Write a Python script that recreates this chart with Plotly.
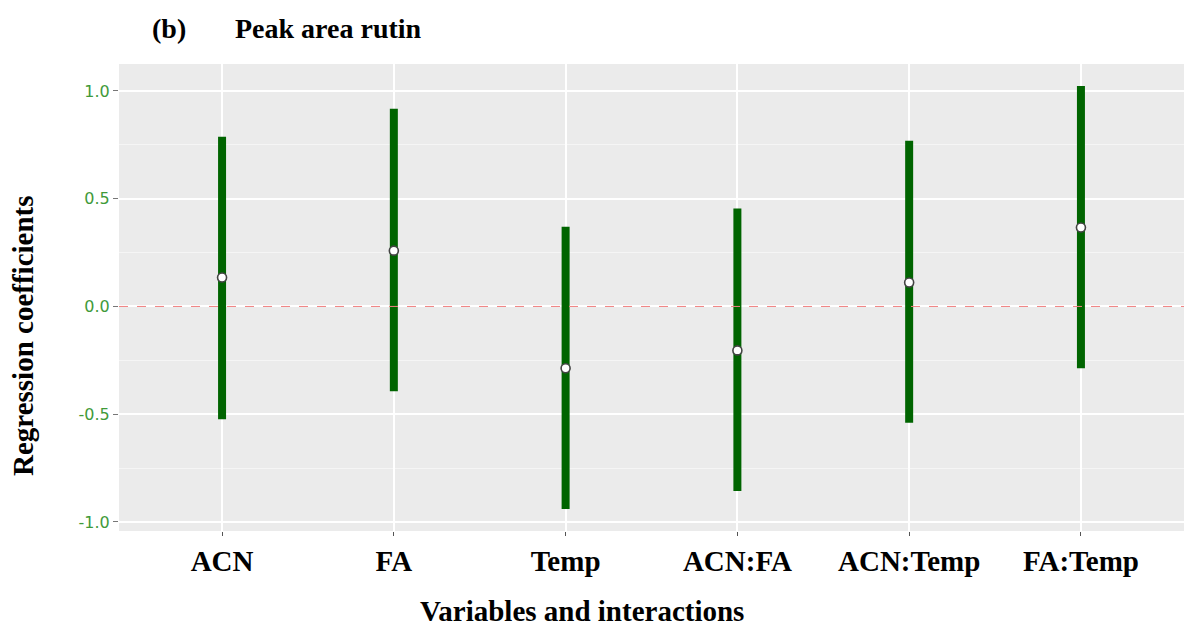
import plotly.graph_objects as go

# Regression coefficient estimates with lower/upper interval limits
terms = ["ACN", "FA", "Temp", "ACN:FA", "ACN:Temp", "FA:Temp"]
estimate = [0.134, 0.259, -0.287, -0.204, 0.111, 0.366]
lower = [-0.523, -0.394, -0.940, -0.856, -0.540, -0.287]
upper = [0.787, 0.917, 0.370, 0.454, 0.769, 1.023]
y_ticks = [-1.0, -0.5, 0.0, 0.5, 1.0]
y_tick_text = ["-1.0", "-0.5", "0.0", "0.5", "1.0"]

serif = "Liberation Serif, Times New Roman, serif"
bar_green = "#006400"

W, H = 1184, 630
M_L, M_R, M_T, M_B = 119, 0, 64, 99
plot_w = W - M_L - M_R
plot_h = H - M_T - M_B


def px_x(px):
    return (px - M_L) / plot_w


def px_y(py):
    return (H - M_B - py) / plot_h


fig = go.Figure()

# Interval bars drawn as thick vertical segments
for i, t in enumerate(terms):
    fig.add_trace(go.Scatter(
        x=[i, i], y=[lower[i], upper[i]],
        mode="lines",
        line=dict(color=bar_green, width=8),
        hoverinfo="skip", showlegend=False,
    ))

# Point estimates
fig.add_trace(go.Scatter(
    x=list(range(len(terms))), y=estimate,
    mode="markers",
    marker=dict(symbol="circle", size=9, color="white",
                line=dict(color="#444444", width=1.6)),
    showlegend=False,
))

# Reference line at zero
fig.add_hline(y=0, line=dict(color="#F08080", width=1, dash="dash"))

fig.update_layout(
    width=W, height=H,
    margin=dict(l=M_L, r=M_R, t=M_T, b=M_B),
    paper_bgcolor="white",
    plot_bgcolor="#EBEBEB",
    showlegend=False,
    xaxis=dict(
        range=[-0.6, 5.6],
        tickmode="array",
        tickvals=list(range(len(terms))),
        ticktext=terms,
        tickfont=dict(family=serif, size=29, color="black", weight="bold"),
        showgrid=True, gridcolor="white", gridwidth=1.5,
        zeroline=False,
        ticks="outside", ticklen=4, tickcolor="#555555", tickwidth=1,
    ),
    yaxis=dict(
        range=[-1.042, 1.125],
        tickmode="array",
        tickvals=y_ticks,
        ticktext=y_tick_text,
        tickfont=dict(family="DejaVu Sans, sans-serif", size=16, color="#3f9a3a"),
        showgrid=True, gridcolor="white", gridwidth=1.5,
        minor=dict(dtick=0.25, showgrid=True, gridcolor="#F5F5F5", gridwidth=0.8),
        zeroline=False,
        ticks="outside", ticklen=5, tickcolor="#777777", tickwidth=1,
    ),
)

# Axis titles
fig.add_annotation(
    text="Variables and interactions", x=px_x(582), y=px_y(611),
    xref="paper", yref="paper", showarrow=False,
    xanchor="center", yanchor="middle",
    font=dict(family=serif, size=29, color="black", weight="bold"),
)
fig.add_annotation(
    text="Regression coefficients", x=px_x(23), y=px_y(336),
    xref="paper", yref="paper", showarrow=False, textangle=-90,
    xanchor="center", yanchor="middle",
    font=dict(family=serif, size=29, color="black", weight="bold"),
)

# Panel label and title placed above the plotting area
for label, px in [("(b)", 150), ("Peak area rutin", 233)]:
    fig.add_annotation(
        text=label, x=px_x(px), y=px_y(28),
        xref="paper", yref="paper", showarrow=False,
        xanchor="left", yanchor="middle",
        font=dict(family=serif, size=28, color="black", weight="bold"),
    )

fig.write_html("out.html")
